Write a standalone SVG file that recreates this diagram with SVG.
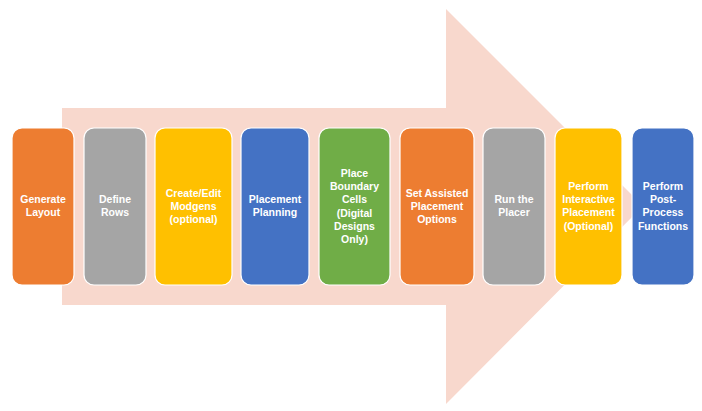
<svg xmlns="http://www.w3.org/2000/svg" width="702" height="411" viewBox="0 0 702 411">
<style>
.box{stroke:#ffffff;stroke-width:1.2}
.t{font-family:"Liberation Sans",Arial,sans-serif;font-weight:bold;font-size:10.5px;fill:#ffffff;text-anchor:middle}
</style>
<rect width="702" height="411" fill="#ffffff"/>
<g id="arrow">
<polygon points="62,108 446,108 446,9 643,206 446,404 446,305 62,305" fill="#F8D8CD"/>
</g>
<g id="connectors"></g>
<g id="n1"><rect class="box" x="12" y="128" width="62" height="157" rx="10" fill="#ED7D31"/>
<text class="t" x="43"><tspan x="43" y="203">Generate</tspan><tspan x="43" y="216">Layout</tspan></text></g>
<g id="n2"><rect class="box" x="84" y="128" width="62" height="157" rx="10" fill="#A5A5A5"/>
<text class="t"><tspan x="115" y="203">Define</tspan><tspan x="115" y="216">Rows</tspan></text></g>
<g id="n3"><rect class="box" x="155" y="128" width="77" height="157" rx="10" fill="#FFC000"/>
<text class="t"><tspan x="193.5" y="197">Create/Edit</tspan><tspan x="193.5" y="210">Modgens</tspan><tspan x="193.5" y="223">(optional)</tspan></text></g>
<g id="n4"><rect class="box" x="241" y="128" width="68" height="157" rx="10" fill="#4472C4"/>
<text class="t"><tspan x="275" y="203">Placement</tspan><tspan x="275" y="216">Planning</tspan></text></g>
<g id="n5"><rect class="box" x="319" y="128" width="71" height="157" rx="10" fill="#70AD47"/>
<text class="t"><tspan x="354.5" y="177">Place</tspan><tspan x="354.5" y="190">Boundary</tspan><tspan x="354.5" y="203">Cells</tspan><tspan x="354.5" y="217">(Digital</tspan><tspan x="354.5" y="230">Designs</tspan><tspan x="354.5" y="243">Only)</tspan></text></g>
<g id="n6"><rect class="box" x="400" y="128" width="74" height="157" rx="10" fill="#ED7D31"/>
<text class="t"><tspan x="437" y="197">Set Assisted</tspan><tspan x="437" y="210">Placement</tspan><tspan x="437" y="223">Options</tspan></text></g>
<g id="n7"><rect class="box" x="483" y="128" width="62" height="157" rx="10" fill="#A5A5A5"/>
<text class="t"><tspan x="514" y="203">Run the</tspan><tspan x="514" y="216">Placer</tspan></text></g>
<g id="n8"><rect class="box" x="555" y="128" width="67" height="157" rx="10" fill="#FFC000"/>
<text class="t"><tspan x="588.5" y="190">Perform</tspan><tspan x="588.5" y="203">Interactive</tspan><tspan x="588.5" y="216">Placement</tspan><tspan x="588.5" y="230">(Optional)</tspan></text></g>
<g id="n9"><rect class="box" x="632" y="128" width="62" height="157" rx="10" fill="#4472C4"/>
<text class="t"><tspan x="663" y="190">Perform</tspan><tspan x="663" y="203">Post-</tspan><tspan x="663" y="216">Process</tspan><tspan x="663" y="230">Functions</tspan></text></g>
</svg>
